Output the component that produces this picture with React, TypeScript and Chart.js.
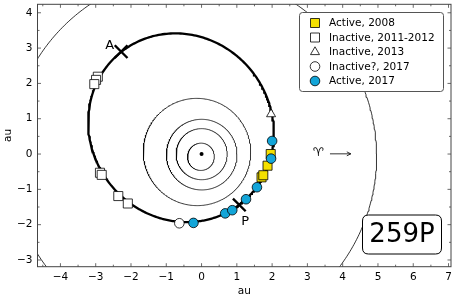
import { useEffect, useRef } from 'react';
import { Chart, registerables } from 'chart.js';

Chart.register(...registerables);

const FONT = 'DejaVu Sans';

// axis ranges (au)
const X_MIN = -4.65;
const X_MAX = 7.07;
const Y_MIN = -3.19;
const Y_MAX = 4.24;

// legend names
const seriesNames = ['Active, 2008', 'Inactive, 2011-2012', 'Inactive, 2013', 'Inactive?, 2017', 'Active, 2017'];

const active2008X = [1.70, 1.75, 1.87, 1.96];
const active2008Y = [-0.66, -0.60, -0.33, 0.00];
const inactive1112X = [-2.94, -2.99, -3.04, -2.88, -2.83, -2.36, -2.09];
const inactive1112Y = [2.19, 2.10, 1.98, -0.53, -0.59, -1.19, -1.40];
const inactive2013X = [1.97];
const inactive2013Y = [1.13];
const inactiveQ2017X = [-0.63];
const inactiveQ2017Y = [-1.96];
const active2017X = [-0.23, 0.67, 0.87, 1.26, 1.57, 1.97, 2.00];
const active2017Y = [-1.95, -1.68, -1.59, -1.28, -0.94, -0.13, 0.37];

// perihelion / aphelion markers
const periX = [1.07];
const periY = [-1.44];
const aphX = [-2.28];
const aphY = [2.90];

// Sun
const sunX = [0];
const sunY = [0];

// orbital elements: semi-major axis (au), eccentricity, longitude of perihelion (deg)
const cometA = 2.735;
const cometE = 0.3455;
const cometPeri = -52;
const planetA = [0.387, 0.723, 1.0, 1.524, 5.203];
const planetE = [0.206, 0.007, 0.017, 0.093, 0.048];
const planetPeri = [77.5, 131.6, 102.9, 336.0, 14.7];

const BLUE = '#13a5d8';
const YELLOW = '#f4e000';

function pts(xs: number[], ys: number[]) {
  return xs.map((x, i) => ({ x, y: ys[i] }));
}

function orbit(a: number, e: number, periDeg: number, n = 400) {
  const p = a * (1 - e * e);
  const w = (periDeg * Math.PI) / 180;
  const out: { x: number; y: number }[] = [];
  for (let i = 0; i <= n; i++) {
    const th = (i / n) * 2 * Math.PI;
    const r = p / (1 + e * Math.cos(th - w));
    out.push({ x: r * Math.cos(th), y: r * Math.sin(th) });
  }
  return out;
}

const minus = (v: number | string) => {
  const n = Number(v);
  return n < 0 ? '\u2212' + Math.abs(n) : String(n);
};

function drawMarker(ctx: CanvasRenderingContext2D, kind: string, x: number, y: number, fill: string) {
  ctx.save();
  ctx.fillStyle = fill;
  ctx.strokeStyle = '#000';
  ctx.lineWidth = 0.8;
  ctx.beginPath();
  if (kind === 'rect') {
    ctx.rect(x - 4.5, y - 4.5, 9, 9);
  } else if (kind === 'triangle') {
    ctx.moveTo(x, y - 5.2);
    ctx.lineTo(x + 4.5, y + 2.6);
    ctx.lineTo(x - 4.5, y + 2.6);
    ctx.closePath();
  } else {
    ctx.arc(x, y, 4.8, 0, Math.PI * 2);
  }
  ctx.fill();
  ctx.stroke();
  ctx.restore();
}

function roundRect(ctx: CanvasRenderingContext2D, x: number, y: number, w: number, h: number, r: number) {
  ctx.beginPath();
  ctx.moveTo(x + r, y);
  ctx.lineTo(x + w - r, y);
  ctx.quadraticCurveTo(x + w, y, x + w, y + r);
  ctx.lineTo(x + w, y + h - r);
  ctx.quadraticCurveTo(x + w, y + h, x + w - r, y + h);
  ctx.lineTo(x + r, y + h);
  ctx.quadraticCurveTo(x, y + h, x, y + h - r);
  ctx.lineTo(x, y + r);
  ctx.quadraticCurveTo(x, y, x + r, y);
  ctx.closePath();
}

const decorPlugin = {
  id: 'decor',
  afterDraw(chart: any) {
    const ctx: CanvasRenderingContext2D = chart.ctx;
    const { left, right, top, bottom } = chart.chartArea;
    const xs = chart.scales.x;
    const ys = chart.scales.y;

    // frame
    ctx.save();
    ctx.strokeStyle = '#444';
    ctx.lineWidth = 1;
    ctx.strokeRect(left, top, right - left, bottom - top);

    // inward ticks on all four sides
    ctx.strokeStyle = '#444';
    ctx.lineWidth = 0.8;
    ctx.beginPath();
    for (let v = -10; v <= 10; v += 0.5) {
      const major = Math.abs(v - Math.round(v)) < 1e-9;
      const len = major ? 3.5 : 2;
      if (v >= X_MIN && v <= X_MAX) {
        const px = xs.getPixelForValue(v);
        ctx.moveTo(px, bottom);
        ctx.lineTo(px, bottom - len);
        ctx.moveTo(px, top);
        ctx.lineTo(px, top + len);
      }
      if (v >= Y_MIN && v <= Y_MAX) {
        const py = ys.getPixelForValue(v);
        ctx.moveTo(left, py);
        ctx.lineTo(left + len, py);
        ctx.moveTo(right, py);
        ctx.lineTo(right - len, py);
      }
    }
    ctx.stroke();

    // A and P labels
    ctx.fillStyle = '#000';
    ctx.font = `13px "${FONT}"`;
    ctx.textBaseline = 'middle';
    ctx.textAlign = 'right';
    ctx.fillText('A', xs.getPixelForValue(aphX[0]) - 7, ys.getPixelForValue(aphY[0]) - 6);
    ctx.textAlign = 'left';
    ctx.fillText('P', xs.getPixelForValue(periX[0]) + 2, ys.getPixelForValue(periY[0]) + 17);

    // vernal equinox direction
    const ax = xs.getPixelForValue(3.31);
    const ay = ys.getPixelForValue(0.02);
    ctx.textAlign = 'center';
    ctx.font = `12px "${FONT}"`;
    ctx.fillText('\u2648', ax, ay);
    const x0 = xs.getPixelForValue(3.64);
    const x1 = xs.getPixelForValue(4.23);
    ctx.strokeStyle = '#000';
    ctx.lineWidth = 0.8;
    ctx.beginPath();
    ctx.moveTo(x0, ay + 0.5);
    ctx.lineTo(x1, ay + 0.5);
    ctx.moveTo(x1 - 4, ay - 1.5);
    ctx.lineTo(x1, ay + 0.5);
    ctx.lineTo(x1 - 4, ay + 2.5);
    ctx.stroke();

    // legend
    const lx = 299.5;
    const ly = 12.5;
    const lw = 144;
    const lh = 79;
    roundRect(ctx, lx, ly, lw, lh, 3);
    ctx.fillStyle = '#fff';
    ctx.fill();
    ctx.strokeStyle = '#555';
    ctx.lineWidth = 1;
    ctx.stroke();
    const kinds = ['rect', 'rect', 'triangle', 'circle', 'circle'];
    const fills = [YELLOW, '#fff', '#fff', '#fff', BLUE];
    ctx.font = `10.5px "${FONT}"`;
    ctx.textAlign = 'left';
    ctx.textBaseline = 'middle';
    seriesNames.forEach((name, i) => {
      const yy = 23 + i * 14.5;
      drawMarker(ctx, kinds[i], 315, yy, fills[i]);
      ctx.fillStyle = '#000';
      ctx.fillText(name, 329, yy + 0.5);
    });

    // name box
    roundRect(ctx, 362.5, 215, 79, 39, 6);
    ctx.fillStyle = '#fff';
    ctx.fill();
    ctx.strokeStyle = '#000';
    ctx.lineWidth = 1;
    ctx.stroke();
    ctx.fillStyle = '#000';
    ctx.font = `26px "${FONT}"`;
    ctx.textAlign = 'center';
    ctx.textBaseline = 'middle';
    ctx.fillText('259P', 402, 235.5);
    ctx.restore();
  },
};

export default function App() {
  const ref = useRef<HTMLCanvasElement | null>(null);

  useEffect(() => {
    document.body.style.margin = '0';
    const canvas = ref.current;
    if (!canvas) return;

    const marker = (label: string, xs: number[], ys: number[], style: string, fill: string, radius: number, order: number) => ({
      label,
      data: pts(xs, ys),
      pointStyle: style,
      pointRadius: radius,
      pointBackgroundColor: fill,
      pointBorderColor: '#000',
      pointBorderWidth: 0.8,
      showLine: false,
      order,
    });

    const planetSets = planetA.map((a, i) => ({
      label: 'planet' + i,
      data: orbit(a, planetE[i], planetPeri[i]),
      showLine: true,
      borderColor: '#000',
      borderWidth: 0.8,
      pointRadius: 0,
      fill: false,
      order: 6,
    }));

    const zeroPad = (s: any) => {
      s.paddingLeft = 0;
      s.paddingRight = 0;
      s.paddingTop = 0;
      s.paddingBottom = 0;
    };

    const chart = new Chart(canvas, {
      type: 'scatter',
      data: {
        datasets: [
          marker(seriesNames[4], active2017X, active2017Y, 'circle', BLUE, 4.8, 0),
          marker(seriesNames[3], inactiveQ2017X, inactiveQ2017Y, 'circle', '#fff', 4.8, 0),
          marker(seriesNames[2], inactive2013X, inactive2013Y, 'triangle', '#fff', 5.2, 1),
          marker(seriesNames[1], inactive1112X, inactive1112Y, 'rect', '#fff', 6.4, 1),
          marker(seriesNames[0], active2008X, active2008Y, 'rect', YELLOW, 6.4, 1),
          {
            label: 'apsides',
            data: [...pts(periX, periY), ...pts(aphX, aphY)],
            pointStyle: 'crossRot',
            pointRadius: 9,
            pointBorderColor: '#000',
            pointBorderWidth: 2.4,
            showLine: false,
            order: 2,
          },
          {
            label: 'Sun',
            data: pts(sunX, sunY),
            pointStyle: 'circle',
            pointRadius: 2,
            pointBackgroundColor: '#000',
            pointBorderColor: '#000',
            pointBorderWidth: 0,
            showLine: false,
            order: 3,
          },
          {
            label: '259P orbit',
            data: orbit(cometA, cometE, cometPeri),
            showLine: true,
            borderColor: '#000',
            borderWidth: 2.3,
            pointRadius: 0,
            fill: false,
            order: 4,
          },
          ...planetSets,
        ] as any,
      },
      options: {
        responsive: false,
        maintainAspectRatio: false,
        animation: false,
        events: [],
        layout: { autoPadding: false, padding: { top: 4.3, right: 6, left: 0, bottom: 0 } },
        plugins: {
          legend: { display: false },
          tooltip: { enabled: false },
        },
        scales: {
          x: {
            type: 'linear',
            min: X_MIN,
            max: X_MAX,
            grid: { display: false, drawTicks: false },
            border: { display: false },
            ticks: {
              stepSize: 1,
              includeBounds: false,
              autoSkip: false,
              maxRotation: 0,
              padding: 4,
              color: '#000',
              font: { family: FONT, size: 10.5 },
              callback: (v: any) => minus(v),
            },
            title: {
              display: true,
              text: 'au',
              color: '#000',
              font: { family: FONT, size: 10.5 },
              padding: { top: 0, bottom: 2 },
            },
            afterFit: (s: any) => {
              s.height = 33.3;
              zeroPad(s);
            },
          },
          y: {
            type: 'linear',
            min: Y_MIN,
            max: Y_MAX,
            grid: { display: false, drawTicks: false },
            border: { display: false },
            ticks: {
              stepSize: 1,
              includeBounds: false,
              autoSkip: false,
              padding: 5,
              color: '#000',
              font: { family: FONT, size: 10.5 },
              callback: (v: any) => minus(v),
            },
            title: {
              display: true,
              text: 'au',
              color: '#000',
              font: { family: FONT, size: 10.5 },
              padding: { top: 1.5, bottom: 0 },
            },
            afterFit: (s: any) => {
              s.width = 37.5;
              zeroPad(s);
            },
          },
        },
      } as any,
      plugins: [decorPlugin],
    });

    return () => chart.destroy();
  }, []);

  return (
    <div style={{ width: 457, height: 300 }}>
      <canvas ref={ref} width={457} height={300} style={{ display: 'block' }} />
    </div>
  );
}
